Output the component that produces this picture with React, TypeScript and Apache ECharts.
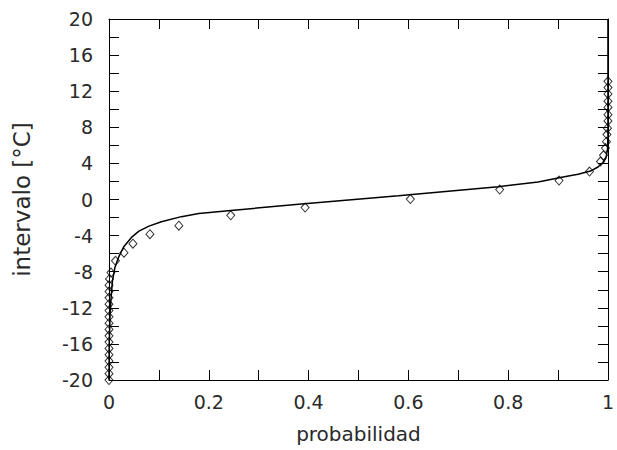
import React, { useEffect, useRef } from "react";
import * as echarts from "echarts";

// Observed points (probability, interval °C)
const obsProb = [
  0, 0, 0, 0, 0, 0, 0, 0, 0, 0, 0, 0, 0, 0, 0, 0, 0.001, 0.004,
  0.013, 0.03, 0.048, 0.082, 0.14, 0.244, 0.393, 0.604, 0.783, 0.902, 0.963,
  0.985, 0.991, 0.995, 0.997, 0.998, 0.999, 1, 1, 1, 1, 1, 1, 1,
];
const obsTemp = [
  -20, -19.3, -18.6, -17.9, -17.2, -16.5, -15.8, -15.1, -14.4, -13.7, -13.0, -12.3, -11.6, -10.9, -10.2, -9.5, -8.8, -8.1,
  -6.8, -5.9, -4.9, -3.85, -2.9, -1.75, -0.9, 0.05, 1.1, 2.1, 3.1,
  4.2, 4.9, 5.7, 6.4, 7.2, 7.9, 8.7, 9.4, 10.2, 10.9, 11.7, 12.4, 13.1,
];

// Fitted curve (probability, interval °C)
const fitProb = [
  0, 0.0005, 0.002, 0.004, 0.007, 0.012, 0.02, 0.03, 0.045, 0.06, 0.08, 0.105, 0.145,
  0.18, 0.25, 0.38, 0.58, 0.78, 0.86, 0.91, 0.94, 0.965, 0.98, 0.99, 0.996, 0.999, 1, 1,
];
const fitTemp = [
  -20, -16, -13, -11, -9, -7.5, -6.3, -5.2, -4.2, -3.5, -2.95, -2.46, -1.9,
  -1.55, -1.18, -0.53, 0.42, 1.42, 1.95, 2.5, 2.8, 3.15, 3.6, 4.1, 4.6, 5.5, 7, 20,
];

const xTicks = ["0", "0.2", "0.4", "0.6", "0.8", "1"];
const yLabelStep = 4;

export default function App() {
  const ref = useRef<HTMLDivElement>(null);
  useEffect(() => {
    if (!ref.current) return;
    const chart = echarts.init(ref.current, undefined, { renderer: "svg" });
    const font = "DejaVu Sans, Verdana, sans-serif";
    const labelColor = "#2a2a2a";
    const lineStyle = { color: "#000", width: 1 };
    const axisLine = { show: true, onZero: false, lineStyle };
    const axisTick = { show: true, inside: true, length: 10, lineStyle };
    chart.setOption({
      animation: false,
      backgroundColor: "#fff",
      grid: { left: 109, right: 5, top: 19, bottom: 70, containLabel: false },
      xAxis: [
        {
          type: "value",
          min: 0,
          max: 1,
          interval: 0.1,
          position: "bottom",
          name: "probabilidad",
          nameLocation: "middle",
          nameGap: 44,
          nameTextStyle: { fontFamily: font, fontSize: 20, color: labelColor },
          axisLine,
          axisTick,
          splitLine: { show: false },
          axisLabel: {
            margin: 12,
            fontFamily: font,
            fontSize: 19,
            color: labelColor,
            formatter: (v: number) => {
              const k = Math.round(v * 10);
              return k % 2 === 0 ? xTicks[k / 2] : "";
            },
          },
        },
        {
          type: "value",
          min: 0,
          max: 1,
          interval: 0.1,
          position: "top",
          axisLine,
          axisTick,
          axisLabel: { show: false },
          splitLine: { show: false },
        },
      ],
      yAxis: [
        {
          type: "value",
          min: -20,
          max: 20,
          interval: 2,
          position: "left",
          name: "intervalo [°C]",
          nameLocation: "middle",
          nameGap: 76,
          nameTextStyle: { fontFamily: font, fontSize: 23, color: labelColor },
          axisLine,
          axisTick,
          splitLine: { show: false },
          axisLabel: {
            margin: 16,
            fontFamily: font,
            fontSize: 19,
            color: labelColor,
            formatter: (v: number) => (Math.round(v) % yLabelStep === 0 ? String(v) : ""),
          },
        },
        {
          type: "value",
          min: -20,
          max: 20,
          interval: 2,
          position: "right",
          axisLine,
          axisTick,
          axisLabel: { show: false },
          splitLine: { show: false },
        },
      ],
      series: [
        {
          type: "line",
          data: fitProb.map((p, i) => [p, fitTemp[i]]),
          showSymbol: false,
          symbol: "none",
          smooth: false,
          clip: false,
          lineStyle: { color: "#000", width: 1.5 },
          z: 3,
        },
        {
          type: "scatter",
          data: obsProb.map((p, i) => [p, obsTemp[i]]),
          symbol: "diamond",
          symbolSize: [8, 9],
          clip: false,
          itemStyle: { color: "rgba(255,255,255,0)", borderColor: "#000", borderWidth: 1 },
          z: 4,
        },
      ],
    });
    return () => chart.dispose();
  }, []);
  return (
    <div
      ref={ref}
      style={{ position: "fixed", left: 0, top: 0, width: 617, height: 450, background: "#fff" }}
    />
  );
}
